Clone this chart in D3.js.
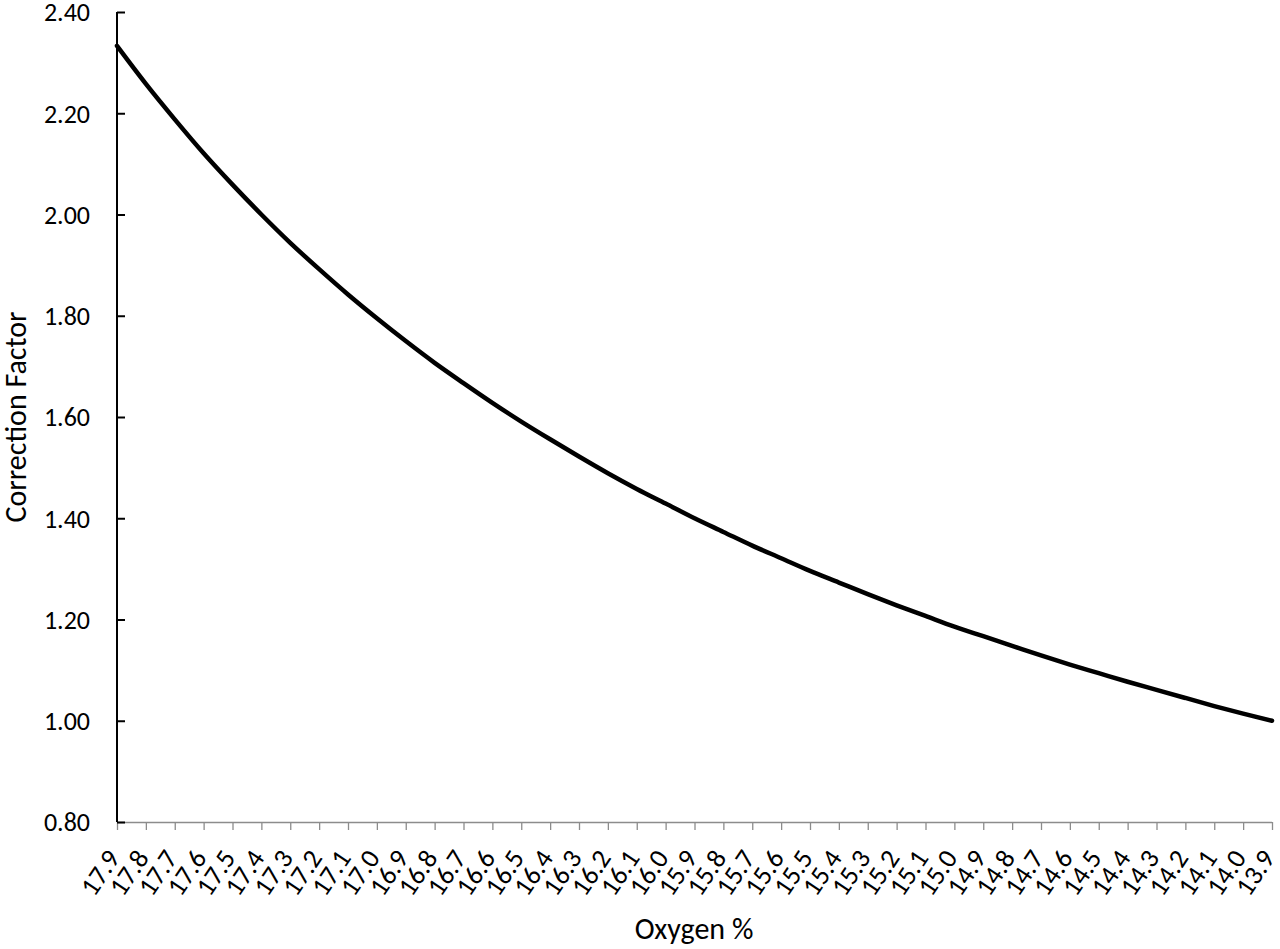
<!DOCTYPE html>
<html>
<head>
<meta charset="utf-8">
<script src="https://cdn.jsdelivr.net/npm/d3@7"></script>
<style>
  html, body { margin: 0; padding: 0; background: #fff; }
  svg { display: block; }
  text { font-family: Carlito, Calibri, Lato, "Open Sans", sans-serif; fill: #000; }
</style>
</head>
<body>
<svg id="chart" width="1280" height="949"></svg>
<script>
// Oxygen % categories (x axis, descending)
const oxygen = ["17.9","17.8","17.7","17.6","17.5","17.4","17.3","17.2","17.1","17.0",
  "16.9","16.8","16.7","16.6","16.5","16.4","16.3","16.2","16.1","16.0",
  "15.9","15.8","15.7","15.6","15.5","15.4","15.3","15.2","15.1","15.0",
  "14.9","14.8","14.7","14.6","14.5","14.4","14.3","14.2","14.1","14.0","13.9"];
// Correction factor values
const correction = [2.333,2.258,2.188,2.121,2.059,2.000,1.944,1.892,1.842,1.795,
  1.750,1.707,1.667,1.628,1.591,1.556,1.522,1.489,1.458,1.429,
  1.400,1.373,1.346,1.321,1.296,1.273,1.250,1.228,1.207,1.186,
  1.167,1.148,1.129,1.111,1.094,1.077,1.061,1.045,1.029,1.014,1.000];
const yTicks = [0.80,1.00,1.20,1.40,1.60,1.80,2.00,2.20,2.40];
const xTitle = "Oxygen %";
const yTitle = "Correction Factor";

const svg = d3.select("#chart");
const pL = 117, pR = 1272, pT = 12, pB = 822;

const x = d3.scalePoint().domain(oxygen).range([pL, pR]);
const y = d3.scaleLinear().domain([0.8, 2.4]).range([pB, pT]);

// X axis (gray)
const xAxis = svg.append("g").attr("transform", `translate(0,${pB})`)
  .call(d3.axisBottom(x).tickSize(8).tickSizeOuter(0).tickFormat(""));
xAxis.select(".domain").attr("stroke", "#8c8c8c").attr("stroke-width", 1.3)
  .attr("d", `M${pL},0.5H${pR}`);
xAxis.selectAll(".tick line").attr("stroke", "#8c8c8c").attr("stroke-width", 1.3);

// X tick labels, rotated
svg.append("g").selectAll("text").data(oxygen).join("text")
  .attr("transform", d => `translate(${x(d) + 4},${pB + 36}) rotate(-56)`)
  .attr("text-anchor", "end")
  .style("font-size", "27px")
  .text(d => d);

// Y axis (black)
const yAxis = svg.append("g").attr("transform", `translate(${pL},0)`)
  .call(d3.axisRight(y).tickValues(yTicks).tickSize(8).tickSizeOuter(0).tickFormat(""));
yAxis.select(".domain").attr("stroke", "#000").attr("stroke-width", 2)
  .attr("d", `M0,${pT}V${pB}`);
yAxis.selectAll(".tick line").attr("stroke", "#000").attr("stroke-width", 2);

svg.append("g").selectAll("text").data(yTicks).join("text")
  .attr("x", 90).attr("y", d => y(d)).attr("dy", "0.36em")
  .attr("text-anchor", "end")
  .style("font-size", "26px")
  .text(d => d.toFixed(2));

// Line
const line = d3.line().x((d, i) => x(oxygen[i])).y(d => y(d)).curve(d3.curveMonotoneX);
svg.append("path").datum(correction)
  .attr("fill", "none").attr("stroke", "#000").attr("stroke-width", 4.5)
  .attr("stroke-linecap", "round").attr("stroke-linejoin", "round")
  .attr("d", line);

// Axis titles
svg.append("text").attr("x", 694).attr("y", 939)
  .attr("text-anchor", "middle").style("font-size", "30px").text(xTitle);
svg.append("text").attr("transform", `translate(26,${(pT + pB) / 2}) rotate(-90)`)
  .attr("text-anchor", "middle").style("font-size", "30px").text(yTitle);
</script>
</body>
</html>
